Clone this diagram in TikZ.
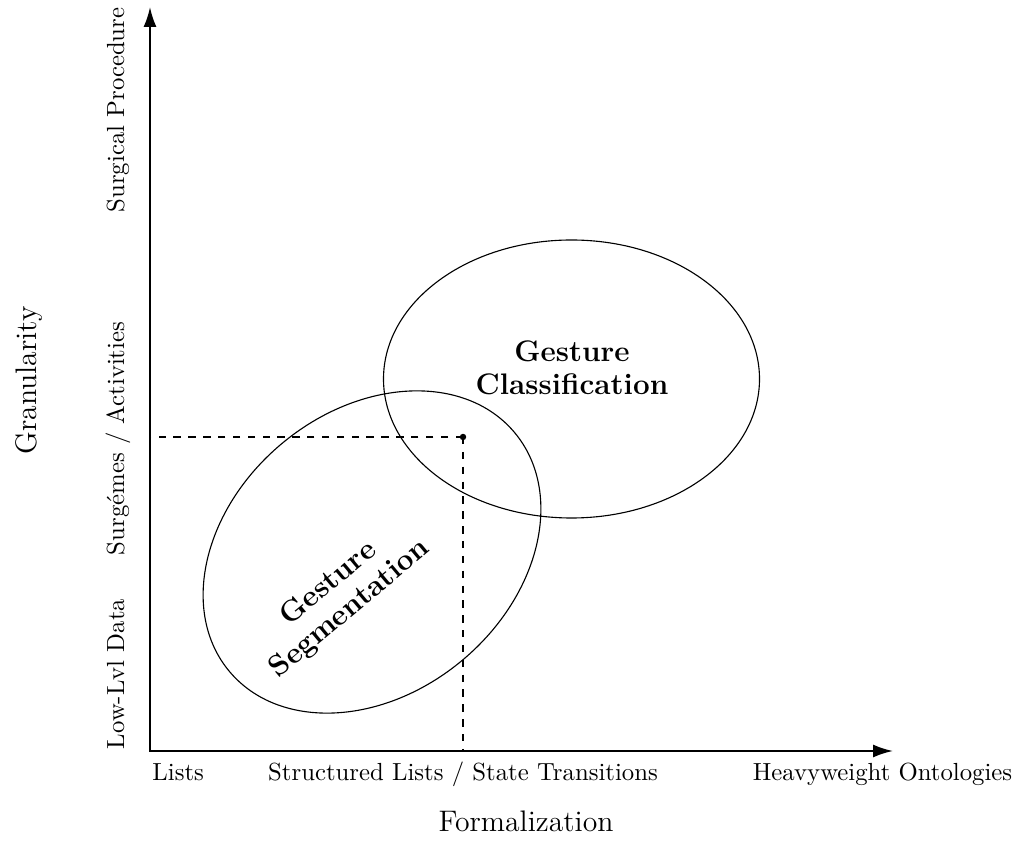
\documentclass[tikz,border=0pt]{standalone}
\usepackage{fontspec}
\usetikzlibrary{arrows.meta}
\begin{document}
\begin{tikzpicture}[x=0.404pt,y=0.404pt,
  axis/.style={line width=0.8pt,{Latex[length=8pt,width=5.2pt]}-{Latex[length=8pt,width=5.2pt]}},
  region/.style={line width=0.45pt},
  guide/.style={dashed,line width=0.45pt},
  marker/.style={circle,fill,inner sep=0pt,minimum size=2.6pt},
  ticklabel/.style={inner sep=0pt,font=\normalsize},
  axistitle/.style={inner sep=0pt,font=\large},
  regionlabel/.style={inner sep=0pt,align=center,font=\fontsize{12}{13.3}\selectfont\bfseries}]
\useasboundingbox (0,0) rectangle (1017,841);

% axes
\coordinate (O) at (150,90);
\coordinate (ytop) at (150,834);
\coordinate (xend) at (893,90);
\draw[axis] (ytop) -- (O) -- (xend);

% the two regions
\draw[region] (571.5,462) ellipse [x radius=188, y radius=139];
\draw[region] (372,289) ellipse [x radius=186, y radius=141, rotate=40];

% reference point with its guide lines to the axes
\node[marker] (P) at (463,404) {};
\draw[guide] (P.center) -- (P.center -| O);
\draw[guide] (P.center) -- (P.center |- O);

% region labels
\node[regionlabel] (cls) at (572,473) {Gesture\\Classification};
\node[regionlabel,rotate=40] (seg) at (339.5,244.5) {Gesture\\Segmentation};

% x axis labels
\node[ticklabel,anchor=base west] (xl1) at (152,60) {Lists};
\node[ticklabel,anchor=base] (xl2) at (463,60) {Structured Lists / State Transitions};
\node[ticklabel,anchor=base east] (xl3) at (1012.7,60) {Heavyweight Ontologies};
\node[axistitle,anchor=base] (xt) at (526,9) {Formalization};

% y axis labels
\node[ticklabel,rotate=90,anchor=base] (yl1) at (124,167) {Low-Lvl Data};
\node[ticklabel,rotate=90,anchor=base] (yl2) at (124,402.5) {Surgémes / Activities};
\node[ticklabel,rotate=90,anchor=base] (yl3) at (124,731) {Surgical Procedure};
\node[axistitle,rotate=90,anchor=base] (yt) at (37,460.5) {Granularity};
\end{tikzpicture}
\end{document}
